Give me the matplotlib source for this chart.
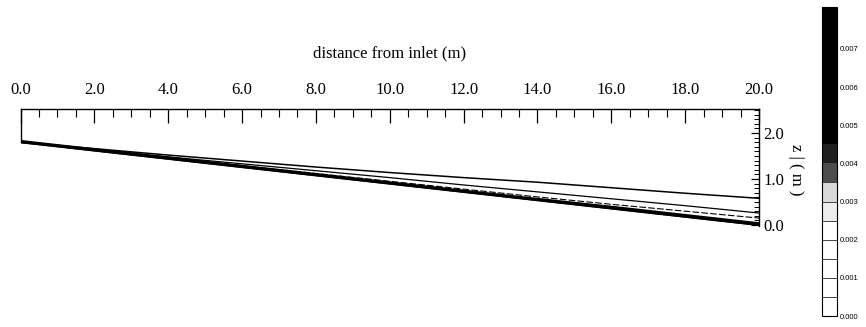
import matplotlib

matplotlib.use("Agg")

import matplotlib.cm as mcm
import matplotlib.colors as mcolors
import matplotlib.pyplot as plt
import matplotlib.ticker as mticker
import numpy as np

# stations along the channel (m) and bed elevation
station_x = [0.0, 2.0, 4.0, 6.0, 8.0, 10.0, 12.0, 14.0, 16.0, 18.0, 20.0]
bed_z = [1.80, 1.62, 1.44, 1.26, 1.08, 0.90, 0.72, 0.54, 0.36, 0.18, 0.00]
top_z = 2.52

# contour heights above the bed (m)
contour_upper = [0.00, 0.04, 0.08, 0.13, 0.18, 0.24, 0.31, 0.39, 0.45, 0.51, 0.58]
contour_mid = [0.00, 0.02, 0.04, 0.07, 0.10, 0.13, 0.15, 0.18, 0.21, 0.24, 0.26]
contour_low = [0.00, 0.01, 0.02, 0.03, 0.04, 0.05, 0.06, 0.07, 0.09, 0.12, 0.15]
band_top = [0.06, 0.06, 0.06, 0.06, 0.06, 0.06, 0.06, 0.06, 0.07, 0.07, 0.07]

x_ticks = [0.0, 2.0, 4.0, 6.0, 8.0, 10.0, 12.0, 14.0, 16.0, 18.0, 20.0]
z_ticks = [0.0, 1.0, 2.0]

cbar_bounds = [0.0, 0.0005, 0.001, 0.0015, 0.002, 0.0025, 0.003, 0.0035,
               0.004, 0.0045, 0.005, 0.0055, 0.006, 0.0065, 0.007, 0.0075, 0.0081]
cbar_grays = [1.0, 1.0, 1.0, 1.0, 1.0, 0.93, 0.85, 0.3, 0.12,
              0.0, 0.0, 0.0, 0.0, 0.0, 0.0, 0.0]
cbar_ticks = [0.000, 0.001, 0.002, 0.003, 0.004, 0.005, 0.006, 0.007]

SERIF = ["Liberation Serif", "DejaVu Serif"]

fig = plt.figure(figsize=(8.66, 3.27), dpi=100)
ax = fig.add_axes([0.0237, 0.2979, 0.8528, 0.3685])

x = np.array(station_x)
bed = np.array(bed_z)

ax.fill_between(x, bed - 0.01, bed + np.array(band_top), color="black", lw=0, zorder=3)
ax.plot(x, bed, color="black", lw=1.6, zorder=4)
ax.plot(x, bed + np.array(contour_upper), color="black", lw=1.1, zorder=4)
ax.plot(x, bed + np.array(contour_mid), color="black", lw=0.9, zorder=4)
ax.plot(x, bed + np.array(contour_low), color="black", lw=0.8,
        linestyle=(0, (6, 2)), zorder=4)

ax.set_xlim(0.0, 20.0)
ax.set_ylim(-0.1, top_z)

ax.spines["bottom"].set_visible(False)
ax.spines["left"].set_bounds(bed_z[0], top_z)
ax.spines["right"].set_bounds(-0.02, top_z)
for side in ("left", "right", "top"):
    ax.spines[side].set_linewidth(1.0)

ax.xaxis.tick_top()
ax.xaxis.set_major_locator(mticker.FixedLocator(x_ticks))
ax.xaxis.set_minor_locator(mticker.MultipleLocator(0.5))
ax.xaxis.set_major_formatter(mticker.FormatStrFormatter("%.1f"))
ax.tick_params(axis="x", which="major", direction="in", length=10, width=0.9,
               top=True, bottom=False, labeltop=True, labelbottom=False, pad=8)
ax.tick_params(axis="x", which="minor", direction="in", length=6, width=0.8,
               top=True, bottom=False)

ax.yaxis.tick_right()
ax.yaxis.set_major_locator(mticker.FixedLocator(z_ticks))
ax.yaxis.set_minor_locator(mticker.FixedLocator(
    [v / 10 for v in range(0, 26) if v % 10]))
ax.yaxis.set_major_formatter(mticker.FormatStrFormatter("%.1f"))
ax.tick_params(axis="y", which="major", direction="in", length=6, width=0.9,
               left=False, right=True, labelleft=False, labelright=True, pad=3)
ax.tick_params(axis="y", which="minor", direction="in", length=3.5, width=0.7,
               left=False, right=True)

for lab in ax.get_xticklabels() + ax.get_yticklabels():
    lab.set_family(SERIF)
    lab.set_fontsize(12)

ax.xaxis.set_label_position("top")
ax.set_xlabel("distance from inlet (m)", family=SERIF, fontsize=12, labelpad=18)
ax.yaxis.set_label_position("right")
ax.set_ylabel("z | ( m )", family=SERIF, fontsize=12, rotation=270, labelpad=14)

# colour bar
cax = fig.add_axes([0.9492, 0.0336, 0.0173, 0.945])
cmap = mcolors.ListedColormap([str(g) for g in cbar_grays])
norm = mcolors.BoundaryNorm(cbar_bounds, cmap.N)
cb = fig.colorbar(mcm.ScalarMappable(norm=norm, cmap=cmap), cax=cax,
                  ticks=cbar_ticks, spacing="proportional")
cb.ax.minorticks_off()
# only the pale boxes show their edges; the dark part reads as one block
for edge, gray in zip(cbar_bounds[1:], cbar_grays):
    if gray > 0.5:
        cb.ax.axhline(edge, color="0.15", lw=0.6)
cb.outline.set_linewidth(0.8)
cb.ax.yaxis.set_major_formatter(mticker.FormatStrFormatter("%.3f"))
cb.ax.tick_params(which="both", length=0, pad=2, labelsize=5.5)
for lab in cb.ax.get_yticklabels():
    lab.set_family(["Liberation Sans", "DejaVu Sans"])

fig.savefig("out.png", dpi=100, facecolor="white")
